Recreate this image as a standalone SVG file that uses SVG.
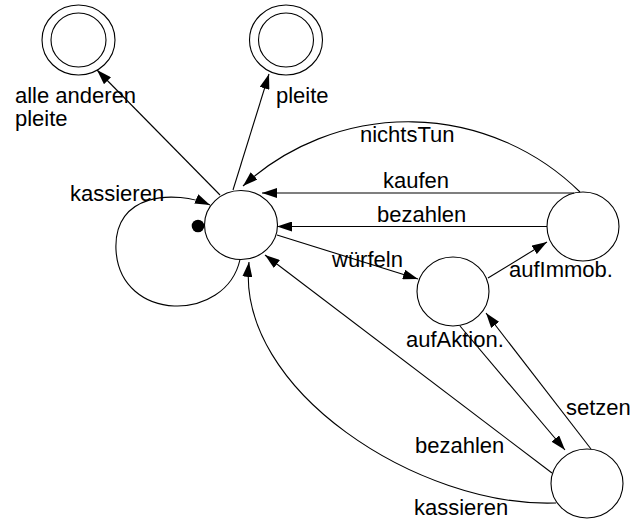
<svg xmlns="http://www.w3.org/2000/svg" width="634" height="527" viewBox="0 0 634 527">
<style>
.s{fill:none;stroke:#000;stroke-width:1.1}
.n{fill:#fff;stroke:#000;stroke-width:1.1}
text{font-family:"Liberation Sans",Arial,sans-serif;font-size:22px;fill:#000}
</style>
<defs>
<marker id="ah" markerUnits="userSpaceOnUse" markerWidth="16" markerHeight="10" refX="15" refY="5" orient="auto">
<path d="M0,0 L15,5 L0,10 Z" fill="#000"/>
</marker>
</defs>
<rect width="634" height="527" fill="#fff"/>
<g id="alleAnderenPleite">
<ellipse class="n" cx="78.5" cy="40" rx="36.5" ry="35"/>
<ellipse class="n" cx="78.5" cy="40" rx="27.5" ry="27"/>
<text x="15" y="103">alle anderen</text>
<text x="15" y="126">pleite</text>
</g>
<g id="pleite">
<ellipse class="n" cx="286" cy="40" rx="36.5" ry="35"/>
<ellipse class="n" cx="286" cy="40" rx="27.5" ry="27"/>
<text x="276" y="103">pleite</text>
</g>
<g id="start">
<ellipse class="n" cx="241" cy="225" rx="36.5" ry="34.5"/>
<circle cx="198" cy="226" r="6.3" fill="#000"/>
</g>
<g id="aufImmob">
<ellipse class="n" cx="583" cy="226.5" rx="36" ry="34.5"/>
<text x="509" y="277">aufImmob.</text>
</g>
<g id="aufAktion">
<ellipse class="n" cx="453" cy="291.5" rx="36" ry="34.5"/>
<text x="406" y="347">aufAktion.</text>
</g>
<g id="gesetzt">
<ellipse class="n" cx="587" cy="483.5" rx="36" ry="34.5"/>
</g>
<g id="connectors">
<path class="s" d="M220,195 L97,70" marker-end="url(#ah)"/>
<path class="s" d="M233,190 L269,74" marker-end="url(#ah)"/>
<path class="s" d="M580,192 A245,245 0 0 0 243,186" marker-end="url(#ah)"/>
<path class="s" d="M574,193 L262,193" marker-end="url(#ah)"/>
<path class="s" d="M547,226.5 L277,226.5" marker-end="url(#ah)"/>
<path class="s" d="M277,235 L418,279" marker-end="url(#ah)"/>
<path class="s" d="M488,278 L547,242" marker-end="url(#ah)"/>
<path class="s" d="M591,449 L486,313" marker-end="url(#ah)"/>
<path class="s" d="M460,326 L565,450" marker-end="url(#ah)"/>
<path class="s" d="M552,473 L265,255" marker-end="url(#ah)"/>
<path class="s" d="M556,503 C420,508 235,390 249,262" marker-end="url(#ah)"/>
<path class="s" d="M240,259.5 C226,323 120,323 116,250 C113,192 176,190 210,205" marker-end="url(#ah)"/>
</g>
<g id="labels">
<text x="70" y="201">kassieren</text>
<text x="360" y="142">nichtsTun</text>
<text x="383" y="188">kaufen</text>
<text x="377" y="222">bezahlen</text>
<text x="332" y="267">würfeln</text>
<text x="566" y="415">setzen</text>
<text x="415" y="453">bezahlen</text>
<text x="414" y="515">kassieren</text>
</g>
</svg>
